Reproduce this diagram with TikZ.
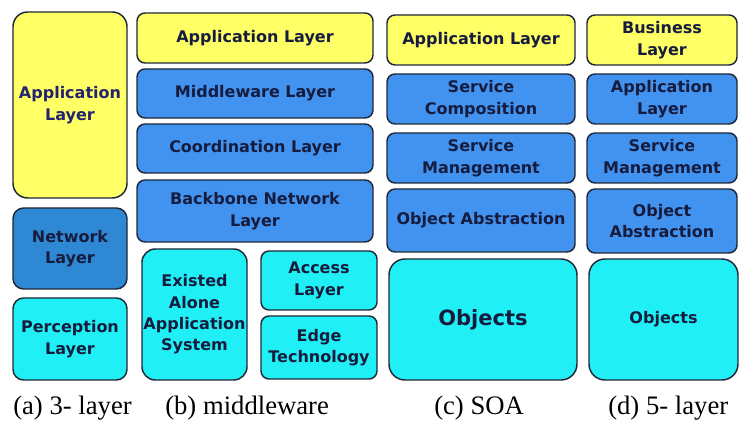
\documentclass[tikz,border=0pt]{standalone}
\usepackage{fontspec}
\setmainfont{Liberation Serif}
\setsansfont{DejaVu Sans}
\usepackage{xcolor,tikz}

\definecolor{layeryellow}{RGB}{255,255,102}
\definecolor{layerblue}{RGB}{66,146,240}
\definecolor{netblue}{RGB}{46,136,212}
\definecolor{layercyan}{RGB}{32,240,245}
\definecolor{layerline}{RGB}{30,40,55}
\definecolor{layertext}{RGB}{22,28,62}

\begin{document}
\begin{tikzpicture}[x=0.75pt,y=0.75pt,yscale=-1,xscale=1,
  layer/.style={draw=layerline, line width=1.1pt, rounded corners=6pt, inner sep=0pt,
    align=center, text=layertext, font=\sffamily\bfseries\fontsize{12}{16}\selectfont},
  caption/.style={anchor=base west, inner sep=0pt, font=\fontsize{20}{24}\selectfont}]

\useasboundingbox (0,0) rectangle (739,423);

% (a) 3-layer
\node [layer, fill=layeryellow, rounded corners=11pt, text={rgb,255:red,35;green,35;blue,110}, minimum width=85.5pt, minimum height=139.5pt] (aApp) at (70,105) {Application\\Layer};
\node [layer, fill=netblue, rounded corners=8pt, minimum width=85.5pt, minimum height=60.75pt] (aNet) at (70,248.5) {Network\\Layer};
\node [layer, fill=layercyan, rounded corners=8pt, minimum width=85.5pt, minimum height=61.5pt] (aPerc) at (70,339) {Perception\\Layer};

% (b) middleware
\node [layer, fill=layeryellow, minimum width=177pt, minimum height=37.5pt] (bApp) at (255,38) {Application Layer};
\node [layer, fill=layerblue, minimum width=177pt, minimum height=36.75pt] (bMid) at (255,93.5) {Middleware Layer};
\node [layer, fill=layerblue, minimum width=177pt, minimum height=36.75pt] (bCoord) at (255,148.5) {Coordination Layer};
\node [layer, fill=layerblue, minimum width=177pt, minimum height=46.5pt] (bBack) at (255,211) {Backbone Network\\Layer};
\node [layer, fill=layercyan, rounded corners=10pt, minimum width=78.75pt, minimum height=98.25pt] (bExist) at (194.5,314.5) {Existed\\Alone\\Application\\System};
\node [layer, fill=layercyan, minimum width=87pt, minimum height=44.25pt] (bAccess) at (319,280.5) {Access\\Layer};
\node [layer, fill=layercyan, minimum width=87pt, minimum height=47.25pt] (bEdge) at (319,347.5) {Edge\\Technology};

% (c) SOA
\node [layer, fill=layeryellow, minimum width=141pt, minimum height=37.5pt] (cApp) at (481,40) {Application Layer};
\node [layer, fill=layerblue, minimum width=141pt, minimum height=37.5pt] (cComp) at (481,99) {Service\\Composition};
\node [layer, fill=layerblue, minimum width=141pt, minimum height=37.5pt] (cMgmt) at (481,158) {Service\\Management};
\node [layer, fill=layerblue, minimum width=141pt, minimum height=47.25pt] (cAbs) at (481,220.5) {Object Abstraction};
\node [layer, fill=layercyan, rounded corners=12pt, font=\sffamily\bfseries\fontsize{15.75}{18}\selectfont, minimum width=141pt, minimum height=90.75pt] (cObj) at (483,319.5) {Objects};

% (d) 5-layer
\node [layer, fill=layeryellow, minimum width=112.5pt, minimum height=37.5pt] (dBus) at (662,40) {Business\\Layer};
\node [layer, fill=layerblue, minimum width=112.5pt, minimum height=37.5pt] (dApp) at (662,99) {Application\\Layer};
\node [layer, fill=layerblue, minimum width=112.5pt, minimum height=37.5pt] (dMgmt) at (662,158) {Service\\Management};
\node [layer, fill=layerblue, minimum width=112.5pt, minimum height=48pt] (dAbs) at (662,221) {Object\\Abstraction};
\node [layer, fill=layercyan, rounded corners=12pt, minimum width=111.75pt, minimum height=90.75pt] (dObj) at (663.5,319.5) {Objects};

% captions
\node [caption] (capA) at (13,415) {(a) 3- layer};
\node [caption] (capB) at (165,415) {(b) middleware};
\node [caption] (capC) at (434,415) {(c) SOA};
\node [caption] (capD) at (608,415) {(d) 5- layer};

\end{tikzpicture}
\end{document}
